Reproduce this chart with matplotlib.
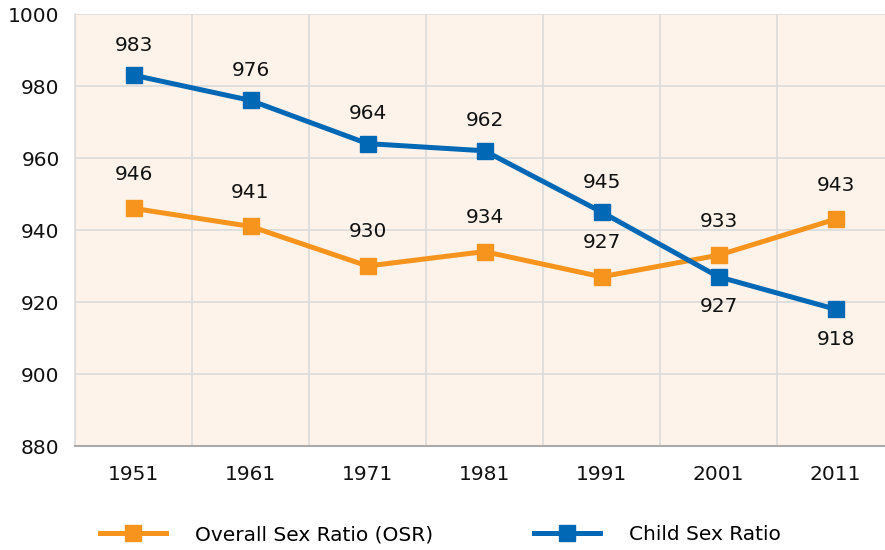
import numpy as np
import matplotlib.pyplot as plt
from matplotlib.lines import Line2D

years = ["1951", "1961", "1971", "1981", "1991", "2001", "2011"]
osr = [946, 941, 930, 934, 927, 933, 943]
csr = [983, 976, 964, 962, 945, 927, 918]
# label placement: 1 = above, -1 = below
osr_pos = [1, 1, 1, 1, 1, 1, 1]
csr_pos = [1, 1, 1, 1, 1, -1, -1]

orange = "#F7941D"
blue = "#0068B4"
plt.rcParams['font.family'] = ['DejaVu Sans']

fig = plt.figure(figsize=(8.85, 5.5), dpi=100)
ax = fig.add_axes([75 / 885, 104 / 550, 819 / 885, 432 / 550])
ax.set_facecolor("#FEF3EA")

x = np.arange(len(years))
ax.plot(x, osr, color=orange, lw=3.6, marker="s", ms=11.5, zorder=3)
ax.plot(x, csr, color=blue, lw=3.6, marker="s", ms=11.5, zorder=4)

fs = 14.5
for xi, v, p in zip(x, osr, osr_pos):
    ax.annotate(str(v), (xi, v), xytext=(0, 24.5 * p), textcoords="offset points",
                ha="center", va="center", fontsize=fs, color="#111111")
for xi, v, p in zip(x, csr, csr_pos):
    ax.annotate(str(v), (xi, v), xytext=(0, 21.5 * p), textcoords="offset points",
                ha="center", va="center", fontsize=fs, color="#111111")

ax.set_xlim(-0.5, 6.5)
ax.set_ylim(880, 1000)
ax.set_yticks(range(880, 1001, 20))
ax.set_xticks(x)
ax.set_xticklabels(years)
ax.set_xticks(np.arange(-0.5, 7, 1), minor=True)
ax.tick_params(which="both", length=0, labelsize=fs, colors="#111111")
ax.tick_params(axis="x", pad=14)
ax.tick_params(axis="y", pad=11)
ax.grid(axis="y", color="#DCDCDC", lw=1.2)
ax.grid(axis="x", which="minor", color="#DCDCDC", lw=1.2)
ax.set_axisbelow(True)
for s in ["top", "right"]:
    ax.spines[s].set_visible(False)
ax.spines["left"].set_color("#DCDCDC")
ax.spines["left"].set_linewidth(1.2)
ax.spines["bottom"].set_color("#AAAAAA")
ax.spines["bottom"].set_linewidth(1.5)

legend_items = [
    (orange, "Overall Sex Ratio (OSR)", 100 / 885),
    (blue, "Child Sex Ratio", 534 / 885),
]
for color, label, x0 in legend_items:
    h = Line2D([], [], color=color, lw=3.6, marker="s", ms=11.5)
    fig.legend([h], [label], loc="center left", bbox_to_anchor=(x0, 15 / 550),
               frameon=False, fontsize=fs, handlelength=3.3, handletextpad=1.4,
               borderpad=0, borderaxespad=0)

fig.savefig("out.png", dpi=100)
